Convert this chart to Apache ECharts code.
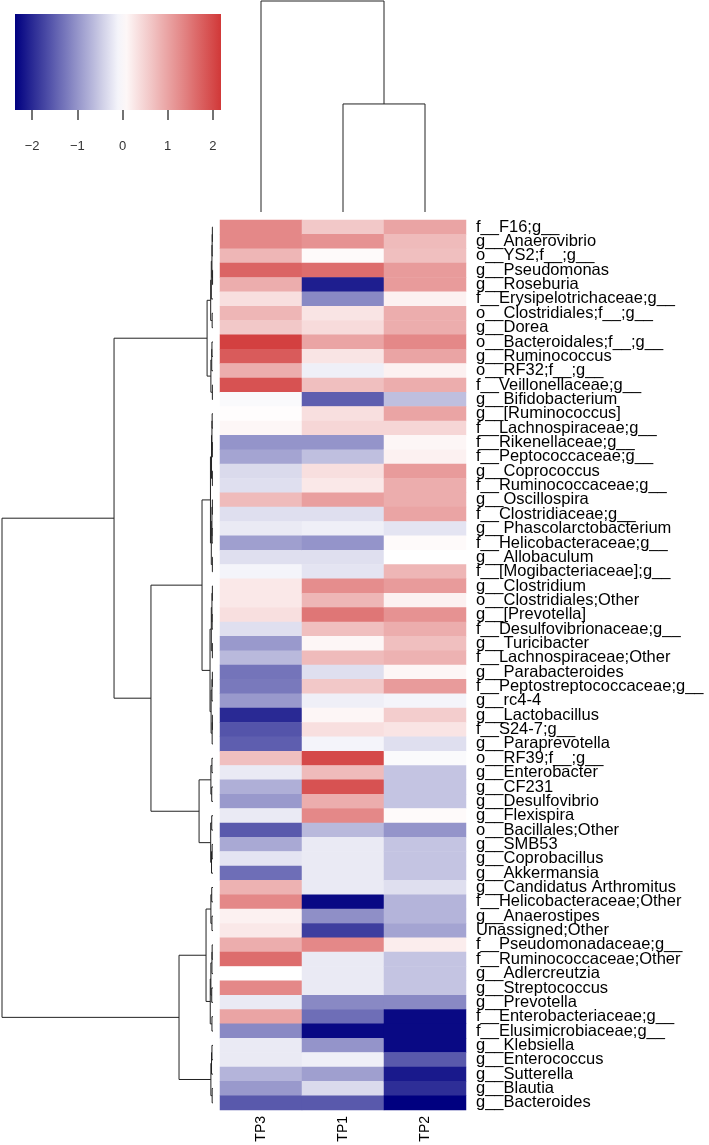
<!DOCTYPE html>
<html><head><meta charset="utf-8">
<script src="https://cdn.jsdelivr.net/npm/echarts@6/dist/echarts.min.js"></script>
<style>html,body{margin:0;padding:0;background:#fff}#c{width:709px;height:1145px}</style>
</head><body><div id="c"></div>
<script>
const columns = ['TP3', 'TP1', 'TP2'];
const taxa = ['f__F16;g__','g__Anaerovibrio','o__YS2;f__;g__','g__Pseudomonas','g__Roseburia','f__Erysipelotrichaceae;g__','o__Clostridiales;f__;g__','g__Dorea','o__Bacteroidales;f__;g__','g__Ruminococcus','o__RF32;f__;g__','f__Veillonellaceae;g__','g__Bifidobacterium','g__[Ruminococcus]','f__Lachnospiraceae;g__','f__Rikenellaceae;g__','f__Peptococcaceae;g__','g__Coprococcus','f__Ruminococcaceae;g__','g__Oscillospira','f__Clostridiaceae;g__','g__Phascolarctobacterium','f__Helicobacteraceae;g__','g__Allobaculum','f__[Mogibacteriaceae];g__','g__Clostridium','o__Clostridiales;Other','g__[Prevotella]','f__Desulfovibrionaceae;g__','g__Turicibacter','f__Lachnospiraceae;Other','g__Parabacteroides','f__Peptostreptococcaceae;g__','g__rc4-4','g__Lactobacillus','f__S24-7;g__','g__Paraprevotella','o__RF39;f__;g__','g__Enterobacter','g__CF231','g__Desulfovibrio','g__Flexispira','o__Bacillales;Other','g__SMB53','g__Coprobacillus','g__Akkermansia','g__Candidatus Arthromitus','f__Helicobacteraceae;Other','g__Anaerostipes','Unassigned;Other','f__Pseudomonadaceae;g__','f__Ruminococcaceae;Other','g__Adlercreutzia','g__Streptococcus','g__Prevotella','f__Enterobacteriaceae;g__','f__Elusimicrobiaceae;g__','g__Klebsiella','g__Enterococcus','g__Sutterella','g__Blautia','g__Bacteroides'];
const tp3 = [1.3,1.3,0.8,1.7,0.9,0.35,0.8,0.6,2.1,1.8,0.9,1.9,-0.05,0.02,0.1,-1.0,-0.85,-0.35,-0.3,0.75,-0.3,-0.2,-0.9,-0.3,-0.1,0.25,0.25,0.35,-0.3,-0.95,-0.65,-1.3,-1.25,-0.95,-2.0,-1.6,-1.5,0.7,-0.2,-0.75,-0.95,-0.2,-1.55,-0.8,-0.25,-1.35,0.85,1.3,0.15,0.25,0.9,1.6,0.0,1.3,-0.2,1.0,-1.1,-0.2,-0.2,-0.7,-0.95,-1.55];
const tp1 = [0.6,1.2,0.05,1.6,-2.1,-1.1,0.3,0.4,1.0,0.3,-0.15,0.7,-1.5,0.35,0.45,-1.0,-0.6,0.35,0.25,1.05,-0.3,-0.15,-1.0,-0.3,-0.25,1.25,0.8,1.5,0.7,0.1,0.75,-0.3,0.6,-0.15,0.1,0.35,-0.1,2.0,0.75,1.9,0.9,1.3,-0.65,-0.2,-0.2,-0.2,-0.2,-2.3,-1.05,-1.8,1.3,-0.2,-0.2,-0.2,-1.1,-1.35,-2.3,-1.0,-0.15,-0.9,-0.35,-1.55];
const tp2 = [1.0,0.75,0.7,1.1,1.1,0.15,0.9,0.9,1.3,1.0,0.15,0.9,-0.6,1.0,0.45,0.1,0.15,1.1,0.9,0.9,1.0,-0.25,0.05,0.0,0.8,1.1,0.15,1.2,0.9,0.7,0.85,0.1,1.1,-0.1,0.55,0.3,-0.3,-0.05,-0.55,-0.55,-0.55,0.05,-1.0,-0.55,-0.55,-0.55,-0.3,-0.7,-0.7,-0.85,0.2,-0.55,-0.55,-0.55,-1.1,-2.3,-2.3,-2.3,-1.55,-2.15,-1.95,-2.38];
const keyTicks = [-2, -1, 0, 1, 2];
const keyRange = [-2.38, 2.18];
const colorLimits = [-2.38, 2.38];
const rampColors = ['#000080', '#ffffff', '#CD2626'];
// dendrograms: [height, left, right]; leaves are row/column indices
const colTree = [100, 0, [51.2, 1, 2]];
const rowTree = [100,
  [46.9,
    [2.8,
      [1.1, [0.8, [0.5, [0.4, [0.3, 0, 1], 2], [0.2, 3, 4]], 5], [0.4, 6, 7]],
      [1.0, [0.6, [0.5, 8, 9], 10], [0.3, 11, 12]]],
    [29.4,
      [5.2,
        [1.2, [0.7, [0.5, [0.4, 13, 14], [0.3, 15, 16]], [0.3, 17, 18]],
              [0.8, [0.5, [0.3, 19, 20], [0.4, 21, 22]], [0.3, 23, 24]]],
        [1.4, [0.8, [0.5, [0.3, 25, 26], [0.4, 27, 28]], [0.3, 29, 30]],
              [0.9, [0.5, [0.3, 31, 32], 33], [0.4, [0.3, 34, 35], 36]]]],
      [6.6,
        [1.0, [0.5, 37, 38], [0.6, 39, 40]],
        [1.1, [0.6, 41, 42], [0.7, [0.4, 43, 44], 45]]]]],
  [16.1,
    [3.3,
      [1.0, [0.6, 46, 47], [0.5, 48, 49]],
      [1.3, [1.0, [0.5, [0.4, 50, 51], 52], [0.6, 53, 54]], [0.5, 55, 56]]],
    [1.0, [0.7, [0.5, 57, 58], 59], [0.4, 60, 61]]]];

function layoutTree(t, out) {
  if (typeof t === 'number') return { pos: t, h: 0 };
  const L = layoutTree(t[1], out), R = layoutTree(t[2], out);
  out.push([t[0], L.pos, R.pos, L.h, R.h]);
  return { pos: (L.pos + R.pos) / 2, h: t[0] };
}
const rowSegs = []; layoutTree(rowTree, rowSegs);
const colSegs = []; layoutTree(colTree, colSegs);

const heatData = [];
[tp3, tp1, tp2].forEach((arr, c) => arr.forEach((v, r) => heatData.push([c, r, v])));

const FONT = '"Liberation Sans", Arial, Helvetica, sans-serif';
const lineStyle = { stroke: '#222', lineWidth: 1, fill: null };

function rampAt(v) {
  const f = (v - colorLimits[0]) / (colorLimits[1] - colorLimits[0]);
  return echarts.color.lerp(Math.max(0, Math.min(1, f)), rampColors);
}

const chart = echarts.init(document.getElementById('c'), null, { renderer: 'canvas' });
chart.setOption({
  animation: false,
  backgroundColor: '#fff',
  grid: [
    { left: 220, top: 220, width: 246, height: 890 },
    { left: 2, top: 220, width: 211, height: 890 },
    { left: 220, top: 1, width: 246, height: 211 },
    { left: 15, top: 14, width: 206, height: 96 }
  ],
  xAxis: [
    { gridIndex: 0, type: 'category', data: columns, position: 'bottom',
      axisLine: { show: false }, axisTick: { show: false }, splitLine: { show: false },
      axisLabel: { rotate: 90, margin: 6, fontSize: 14, color: '#000', fontFamily: FONT } },
    { gridIndex: 1, type: 'value', min: 0, max: 100, inverse: true, show: false },
    { gridIndex: 2, type: 'value', min: -0.5, max: 2.5, show: false },
    { gridIndex: 3, type: 'value', min: keyRange[0], max: keyRange[1],
      axisLine: { show: false }, splitLine: { show: false },
      axisTick: { show: true, length: 10, customValues: keyTicks, lineStyle: { color: '#444', width: 1.5 } },
      axisLabel: { customValues: keyTicks, margin: 30, fontSize: 13, color: '#333', fontFamily: FONT,
        formatter: v => (v < 0 ? '\u2212' + Math.abs(v) : String(v)) } }
  ],
  yAxis: [
    { gridIndex: 0, type: 'category', data: taxa, inverse: true, position: 'right',
      axisLine: { show: false }, axisTick: { show: false }, splitLine: { show: false },
      axisLabel: { interval: 0, margin: 10, fontSize: 16.5, color: '#000', fontFamily: FONT } },
    { gridIndex: 1, type: 'value', min: -0.5, max: taxa.length - 0.5, inverse: true, show: false },
    { gridIndex: 2, type: 'value', min: 0, max: 100, show: false },
    { gridIndex: 3, type: 'value', min: 0, max: 1, show: false }
  ],
  visualMap: {
    type: 'continuous', show: false, seriesIndex: 0,
    min: colorLimits[0], max: colorLimits[1], inRange: { color: rampColors }
  },
  series: [
    { type: 'heatmap', xAxisIndex: 0, yAxisIndex: 0, data: heatData,
      itemStyle: { borderWidth: 0 }, emphasis: { disabled: true } },
    { type: 'custom', xAxisIndex: 1, yAxisIndex: 1, data: rowSegs, clip: false, silent: true,
      encode: { x: 0, y: 1 },
      renderItem: (p, api) => ({
        type: 'polyline',
        shape: { points: [
          api.coord([api.value(3), api.value(1)]), api.coord([api.value(0), api.value(1)]),
          api.coord([api.value(0), api.value(2)]), api.coord([api.value(4), api.value(2)]) ] },
        style: lineStyle
      }) },
    { type: 'custom', xAxisIndex: 2, yAxisIndex: 2, data: colSegs, clip: false, silent: true,
      encode: { x: 1, y: 0 },
      renderItem: (p, api) => ({
        type: 'polyline',
        shape: { points: [
          api.coord([api.value(1), api.value(3)]), api.coord([api.value(1), api.value(0)]),
          api.coord([api.value(2), api.value(0)]), api.coord([api.value(2), api.value(4)]) ] },
        style: lineStyle
      }) },
    { type: 'custom', xAxisIndex: 3, yAxisIndex: 3, data: [keyRange], clip: false, silent: true,
      encode: { x: [0, 1] },
      renderItem: (p, api) => {
        const v0 = api.value(0), v1 = api.value(1);
        const a = api.coord([v0, 1]), b = api.coord([v1, 0]);
        const stops = [];
        const n = 24;
        for (let i = 0; i <= n; i++) {
          const v = v0 + (v1 - v0) * i / n;
          stops.push({ offset: i / n, color: rampAt(v) });
        }
        return { type: 'rect', shape: { x: a[0], y: a[1], width: b[0] - a[0], height: b[1] - a[1] },
          style: { fill: new echarts.graphic.LinearGradient(0, 0, 1, 0, stops) } };
      } }
  ]
});
</script></body></html>
